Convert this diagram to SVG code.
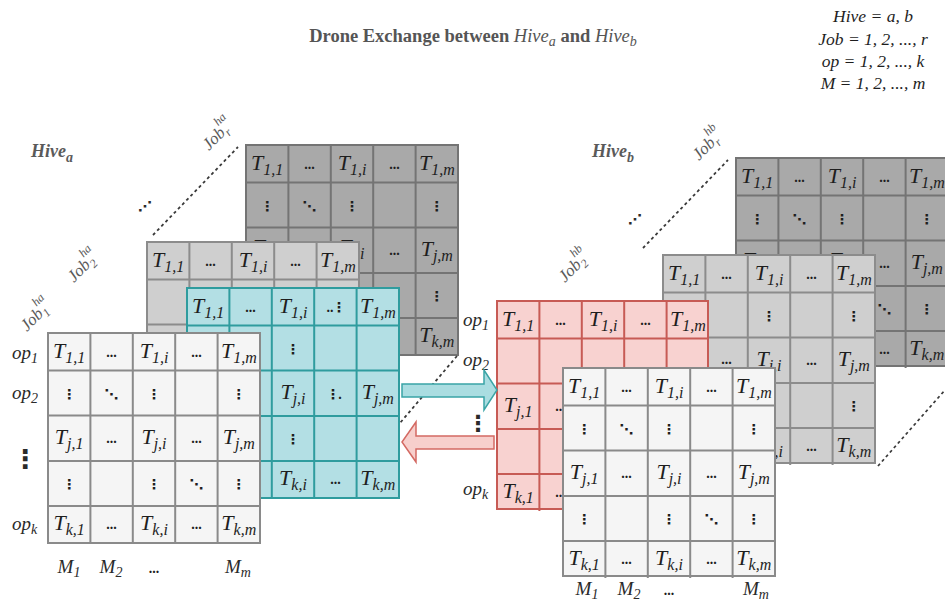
<svg xmlns="http://www.w3.org/2000/svg" xmlns:xlink="http://www.w3.org/1999/xlink" width="945" height="606" viewBox="0 0 945 606">
<style>
text{font-family:"Liberation Serif","Times New Roman",serif}
.m text{text-anchor:middle}
.t{font-style:italic;font-size:22px;fill:#1e1e1e}
.t tspan{font-size:16px}
.d{font-size:14px;font-weight:bold;fill:#1e1e1e}
.v{font-family:"DejaVu Sans",sans-serif;font-size:14px;font-weight:bold;fill:#1e1e1e}
.bg{stroke-width:2}
.g{fill:none;stroke-width:2}
.dark .bg{fill:#a9a9a9}.dark .bg,.dark .g{stroke:#747474}
.lite .bg{fill:#cfcfcf}.lite .bg,.lite .g{stroke:#8c8c8c}
.wht .bg{fill:#f5f5f5}.wht .bg,.wht .g{stroke:#8a8a8a}
.cyn .bg{fill:#b3dfe4}.cyn .bg,.cyn .g{stroke:#2f9c9e}
.red .bg{fill:#f8d2d0}.red .bg,.red .g{stroke:#c75b55}
.lab{font-style:italic;font-size:19px;fill:#2a2a2a}
.lab tspan{font-size:14px}
.job{font-style:italic;font-size:17px;fill:#5a5a5a}
.job tspan{font-size:12px}
.hive{font-style:italic;font-weight:bold;font-size:18px;fill:#5a5a5a}
.hive tspan{font-size:14px}
.title{font-weight:bold;font-size:18.5px;fill:#555;text-anchor:middle}
.title .i{font-style:italic;font-weight:normal}
.title .s{font-size:14px;font-style:italic;font-weight:normal}
.leg{font-style:italic;font-size:17.5px;fill:#1e1e1e;text-anchor:middle}
.dot{fill:none;stroke:#3a3a3a;stroke-width:1.8;stroke-dasharray:3 3}
.vd{font-family:"DejaVu Sans",sans-serif;font-weight:bold;fill:#2a2a2a}
</style>
<defs>
<path id="grid" d="M42.4,0V210M84.8,0V210M127.2,0V210M169.6,0V210M0,37.5H212M0,82.5H212M0,128H212M0,173H212"/>
</defs>

<rect width="945" height="606" fill="#ffffff"/>

<g id="title">
<text class="title" x="473" y="42">Drone Exchange between <tspan class="i">Hive</tspan><tspan class="s" dy="4">a</tspan><tspan dy="-4"> and </tspan><tspan class="i">Hive</tspan><tspan class="s" dy="4">b</tspan></text>
</g>
<g id="legend">
<text class="leg" x="873" y="22">Hive = a, b</text>
<text class="leg" x="873" y="45">Job = 1, 2, ..., r</text>
<text class="leg" x="873" y="67">op = 1, 2, ..., k</text>
<text class="leg" x="873" y="89">M = 1, 2, ..., m</text>
</g>

<g id="hive-a-labels">
<text class="hive" x="31" y="157">Hive<tspan dy="5">a</tspan></text>
<text class="job" transform="translate(27,332) rotate(-45)">Job<tspan dy="4">1</tspan><tspan dx="-6" dy="-15">ha</tspan></text>
<text class="job" transform="translate(74,283) rotate(-45)">Job<tspan dy="4">2</tspan><tspan dx="-6" dy="-15">ha</tspan></text>
<text class="job" transform="translate(209,151) rotate(-45)">Job<tspan dy="4">r</tspan><tspan dx="-5" dy="-15">ha</tspan></text>
<text class="vd" x="145" y="211" font-size="14" text-anchor="middle">⋰</text>
<text class="lab" x="12" y="359">op<tspan dy="4">1</tspan></text>
<text class="lab" x="12" y="399">op<tspan dy="4">2</tspan></text>
<text class="vd" x="25" y="468" font-size="26" text-anchor="middle">⋮</text>
<text class="lab" x="12" y="530">op<tspan dy="4">k</tspan></text>
<text class="lab" x="69" y="573" text-anchor="middle">M<tspan dy="4">1</tspan></text>
<text class="lab" x="111" y="573" text-anchor="middle">M<tspan dy="4">2</tspan></text>
<text class="d" x="154" y="573" text-anchor="middle">...</text>
<text class="lab" x="238" y="573" text-anchor="middle">M<tspan dy="4">m</tspan></text>
</g>

<g id="hive-b-labels">
<text class="hive" x="592" y="157">Hive<tspan dy="5">b</tspan></text>
<text class="job" transform="translate(565,283) rotate(-45)">Job<tspan dy="4">2</tspan><tspan dx="-6" dy="-15">hb</tspan></text>
<text class="job" transform="translate(699,161) rotate(-45)">Job<tspan dy="4">r</tspan><tspan dx="-5" dy="-15">hb</tspan></text>
<text class="vd" x="635" y="224" font-size="14" text-anchor="middle">⋰</text>
<text class="lab" x="463" y="326">op<tspan dy="4">1</tspan></text>
<text class="lab" x="463" y="366">op<tspan dy="4">2</tspan></text>
<text class="vd" x="478" y="431" font-size="22" text-anchor="middle">⋮</text>
<text class="lab" x="463" y="495">op<tspan dy="4">k</tspan></text>
<text class="lab" x="587" y="595" text-anchor="middle">M<tspan dy="4">1</tspan></text>
<text class="lab" x="629" y="595" text-anchor="middle">M<tspan dy="4">2</tspan></text>
<text class="d" x="669" y="595" text-anchor="middle">...</text>
<text class="lab" x="756" y="595" text-anchor="middle">M<tspan dy="4">m</tspan></text>
</g>

<!-- Hive a -->
<g id="hive-a-job-r" class="m dark" transform="translate(246,145)">
<rect class="bg" width="212" height="210"/><use class="g" xlink:href="#grid"/>
<text class="t" x="21.2" y="25">T<tspan dy="5">1,1</tspan></text>
<text class="d" x="63.6" y="24">...</text>
<text class="t" x="106" y="25">T<tspan dy="5">1,i</tspan></text>
<text class="d" x="148.4" y="24">...</text>
<text class="t" x="190.8" y="25">T<tspan dy="5">1,m</tspan></text>
<text class="v" x="21.2" y="66">⋮</text>
<text class="v" x="63.6" y="66">⋱</text>
<text class="v" x="106" y="66">⋮</text>
<text class="v" x="190.8" y="66">⋮</text>
<text class="t" x="21.2" y="109">T<tspan dy="5">j,1</tspan></text>
<text class="t" x="106" y="109">T<tspan dy="5">j,i</tspan></text>
<text class="d" x="148.4" y="110">...</text>
<text class="t" x="190.8" y="111">T<tspan dy="5">j,m</tspan></text>
<text class="v" x="190.8" y="156">⋮</text>
<text class="t" x="190.8" y="197">T<tspan dy="5">k,m</tspan></text>
</g>

<g id="hive-a-job-2" class="m lite" transform="translate(147,242)">
<rect class="bg" width="212" height="210"/><use class="g" xlink:href="#grid"/>
<text class="t" x="21.2" y="25">T<tspan dy="5">1,1</tspan></text>
<text class="d" x="63.6" y="24">...</text>
<text class="t" x="106" y="25">T<tspan dy="5">1,i</tspan></text>
<text class="d" x="148.4" y="24">...</text>
<text class="t" x="190.8" y="25">T<tspan dy="5">1,m</tspan></text>
</g>

<g id="hive-a-exchange" class="m cyn" transform="translate(187,288)">
<rect class="bg" width="212" height="210"/><use class="g" xlink:href="#grid"/>
<text class="t" x="21.2" y="25">T<tspan dy="5">1,1</tspan></text>
<text class="d" x="63.6" y="24">...</text>
<text class="t" x="106" y="25">T<tspan dy="5">1,i</tspan></text>
<text class="d" x="143" y="24">..</text>
<text class="v" x="152" y="24">⋮</text>
<text class="t" x="190.8" y="25">T<tspan dy="5">1,m</tspan></text>
<text class="v" x="106" y="66">⋮</text>
<text class="t" x="106" y="111">T<tspan dy="5">j,i</tspan></text>
<text class="v" x="146" y="111">⋮</text>
<text class="d" x="153" y="111">.</text>
<text class="t" x="190.8" y="111">T<tspan dy="5">j,m</tspan></text>
<text class="v" x="106" y="156">⋮</text>
<text class="t" x="106" y="197">T<tspan dy="5">k,i</tspan></text>
<text class="d" x="148.4" y="196">...</text>
<text class="t" x="190.8" y="197">T<tspan dy="5">k,m</tspan></text>
</g>

<g id="hive-a-job-1" class="m wht" transform="translate(48,333)">
<rect class="bg" width="212" height="210"/><use class="g" xlink:href="#grid"/>
<text class="t" x="21.2" y="25">T<tspan dy="5">1,1</tspan></text>
<text class="d" x="63.6" y="24">...</text>
<text class="t" x="106" y="25">T<tspan dy="5">1,i</tspan></text>
<text class="d" x="148.4" y="24">...</text>
<text class="t" x="190.8" y="25">T<tspan dy="5">1,m</tspan></text>
<text class="v" x="21.2" y="66">⋮</text>
<text class="v" x="63.6" y="66">⋱</text>
<text class="v" x="106" y="66">⋮</text>
<text class="v" x="190.8" y="66">⋮</text>
<text class="t" x="21.2" y="111">T<tspan dy="5">j,1</tspan></text>
<text class="d" x="63.6" y="110">...</text>
<text class="t" x="106" y="111">T<tspan dy="5">j,i</tspan></text>
<text class="d" x="148.4" y="110">...</text>
<text class="t" x="190.8" y="111">T<tspan dy="5">j,m</tspan></text>
<text class="v" x="21.2" y="156">⋮</text>
<text class="v" x="106" y="156">⋮</text>
<text class="v" x="148.4" y="156">⋱</text>
<text class="v" x="190.8" y="156">⋮</text>
<text class="t" x="21.2" y="197">T<tspan dy="5">k,1</tspan></text>
<text class="d" x="63.6" y="196">...</text>
<text class="t" x="106" y="197">T<tspan dy="5">k,i</tspan></text>
<text class="d" x="148.4" y="196">...</text>
<text class="t" x="190.8" y="197">T<tspan dy="5">k,m</tspan></text>
</g>

<!-- Hive b -->
<g id="hive-b-job-r" class="m dark" transform="translate(736,158)">
<rect class="bg" width="212" height="208"/><use class="g" xlink:href="#grid"/>
<text class="t" x="21.2" y="25">T<tspan dy="5">1,1</tspan></text>
<text class="d" x="63.6" y="24">...</text>
<text class="t" x="106" y="25">T<tspan dy="5">1,i</tspan></text>
<text class="d" x="148.4" y="24">...</text>
<text class="t" x="190.8" y="25">T<tspan dy="5">1,m</tspan></text>
<text class="v" x="21.2" y="66">⋮</text>
<text class="v" x="63.6" y="66">⋱</text>
<text class="v" x="106" y="66">⋮</text>
<text class="v" x="190.8" y="66">⋮</text>
<text class="t" x="21.2" y="109">T<tspan dy="5">j,1</tspan></text>
<text class="t" x="106" y="109">T<tspan dy="5">j,i</tspan></text>
<text class="d" x="148.4" y="110">...</text>
<text class="t" x="190.8" y="111">T<tspan dy="5">j,m</tspan></text>
<text class="v" x="148.4" y="156">⋱</text>
<text class="v" x="190.8" y="156">⋮</text>
<text class="d" x="148.4" y="196">...</text>
<text class="t" x="190.8" y="197">T<tspan dy="5">k,m</tspan></text>
</g>

<g id="hive-b-job-2" class="m lite" transform="translate(663,255)">
<rect class="bg" width="212" height="208"/><use class="g" xlink:href="#grid"/>
<text class="t" x="21.2" y="25">T<tspan dy="5">1,1</tspan></text>
<text class="d" x="63.6" y="24">...</text>
<text class="t" x="106" y="25">T<tspan dy="5">1,i</tspan></text>
<text class="d" x="148.4" y="24">...</text>
<text class="t" x="190.8" y="25">T<tspan dy="5">1,m</tspan></text>
<text class="v" x="106" y="66">⋮</text>
<text class="v" x="190.8" y="66">⋮</text>
<text class="d" x="63.6" y="109">...</text>
<text class="t" x="106" y="111">T<tspan dy="5">j,i</tspan></text>
<text class="d" x="148.4" y="110">...</text>
<text class="t" x="190.8" y="111">T<tspan dy="5">j,m</tspan></text>
<text class="v" x="190.8" y="156">⋮</text>
<text class="t" x="106" y="197">T<tspan dy="5">k,i</tspan></text>
<text class="d" x="148.4" y="196">...</text>
<text class="t" x="190.8" y="197">T<tspan dy="5">k,m</tspan></text>
</g>

<g id="hive-b-exchange" class="m red" transform="translate(497,301)">
<rect class="bg" width="211" height="208"/><use class="g" xlink:href="#grid"/>
<text class="t" x="21.2" y="25">T<tspan dy="5">1,1</tspan></text>
<text class="d" x="63.6" y="24">...</text>
<text class="t" x="106" y="25">T<tspan dy="5">1,i</tspan></text>
<text class="d" x="148.4" y="24">...</text>
<text class="t" x="190.8" y="25">T<tspan dy="5">1,m</tspan></text>
<text class="t" x="21.2" y="111">T<tspan dy="5">j,1</tspan></text>
<text class="d" x="63.6" y="110">...</text>
<text class="t" x="21.2" y="197">T<tspan dy="5">k,1</tspan></text>
<text class="d" x="63.6" y="196">...</text>
</g>

<g id="hive-b-job-1" class="m wht" transform="translate(563,368)">
<rect class="bg" width="212" height="208"/><use class="g" xlink:href="#grid"/>
<text class="t" x="21.2" y="25">T<tspan dy="5">1,1</tspan></text>
<text class="d" x="63.6" y="24">...</text>
<text class="t" x="106" y="25">T<tspan dy="5">1,i</tspan></text>
<text class="d" x="148.4" y="24">...</text>
<text class="t" x="190.8" y="25">T<tspan dy="5">1,m</tspan></text>
<text class="v" x="21.2" y="66">⋮</text>
<text class="v" x="63.6" y="66">⋱</text>
<text class="v" x="106" y="66">⋮</text>
<text class="v" x="190.8" y="66">⋮</text>
<text class="t" x="21.2" y="111">T<tspan dy="5">j,1</tspan></text>
<text class="d" x="63.6" y="110">...</text>
<text class="t" x="106" y="111">T<tspan dy="5">j,i</tspan></text>
<text class="d" x="148.4" y="110">...</text>
<text class="t" x="190.8" y="111">T<tspan dy="5">j,m</tspan></text>
<text class="v" x="21.2" y="156">⋮</text>
<text class="v" x="106" y="156">⋮</text>
<text class="v" x="148.4" y="156">⋱</text>
<text class="v" x="190.8" y="156">⋮</text>
<text class="t" x="21.2" y="197">T<tspan dy="5">k,1</tspan></text>
<text class="d" x="63.6" y="196">...</text>
<text class="t" x="106" y="197">T<tspan dy="5">k,i</tspan></text>
<text class="d" x="148.4" y="196">...</text>
<text class="t" x="190.8" y="197">T<tspan dy="5">k,m</tspan></text>
</g>

<g id="connectors">
<path class="dot" d="M153,235L238,147"/>
<path class="dot" d="M457,356L400,423"/>
<path class="dot" d="M643,248L728,160"/>
<path class="dot" d="M878,466L945,390"/>
<path d="M402,384H484V370L497,390L484,410V397H402Z" fill="#aadde1" stroke="#3aa4a6" stroke-width="1.5"/>
<path d="M494,436H416V422L402,442L416,462V449H494Z" fill="#f7cfcc" stroke="#d46a63" stroke-width="1.5"/>
</g>
</svg>
